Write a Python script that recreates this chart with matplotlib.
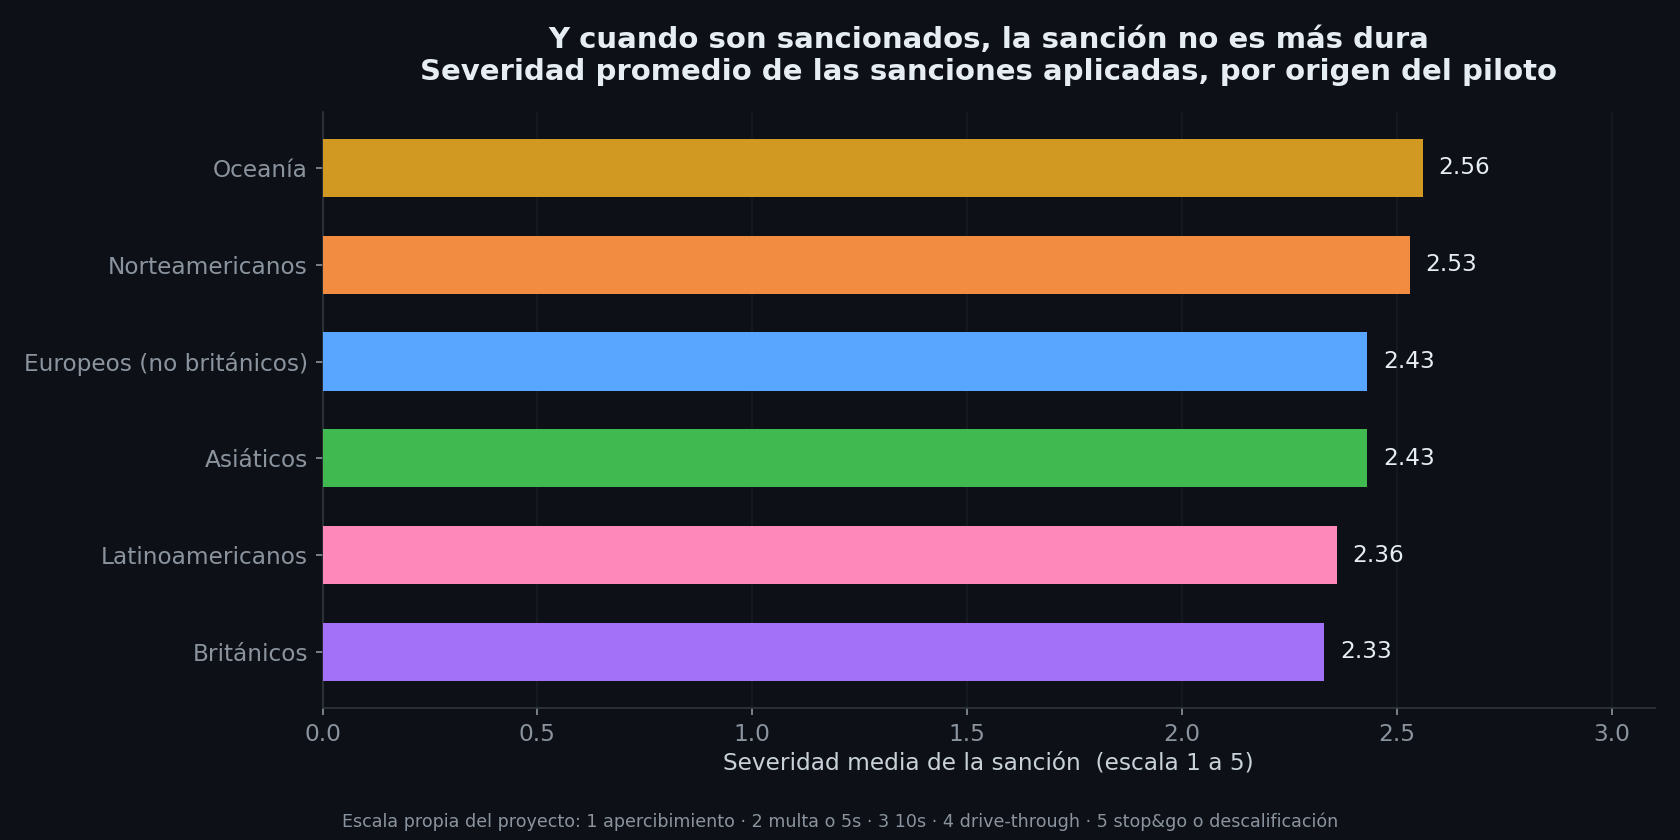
import matplotlib
matplotlib.use("Agg")
import matplotlib.pyplot as plt

# Severidad media por origen del piloto (escala 1 a 5)
origenes = ["Británicos", "Latinoamericanos", "Asiáticos",
            "Europeos (no británicos)", "Norteamericanos", "Oceanía"]
severidad = [2.33, 2.36, 2.43, 2.43, 2.53, 2.56]
colores = ["#a371f7", "#ff88bb", "#3fb950", "#58a6ff", "#f28c40", "#d29922"]

BG = "#0d1017"
TXT = "#e6edf3"
MUTED = "#8b949e"
SPINE = "#30363d"

fig, ax = plt.subplots(figsize=(11.2, 5.6), dpi=150)
fig.patch.set_facecolor(BG)
ax.set_facecolor(BG)

bars = ax.barh(origenes, severidad, height=0.6, color=colores, zorder=3)

for b, v in zip(bars, severidad):
    ax.text(v + 0.037, b.get_y() + b.get_height() / 2, f"{v:.2f}",
            va="center", ha="left", color=TXT, fontsize=11.2)

ax.set_xlim(0, 3.1)
ax.set_xticks([0.0, 0.5, 1.0, 1.5, 2.0, 2.5, 3.0])
ax.grid(axis="x", color="#161b22", linewidth=0.8, zorder=0)

for s in ["top", "right"]:
    ax.spines[s].set_visible(False)
for s in ["left", "bottom"]:
    ax.spines[s].set_color(SPINE)

ax.tick_params(axis="both", colors=MUTED, labelsize=11.2)

ax.set_xlabel("Severidad media de la sanción  (escala 1 a 5)", color="#c9d1d9",
              fontsize=11.2, labelpad=3)
ax.set_title("Y cuando son sancionados, la sanción no es más dura\n"
             "Severidad promedio de las sanciones aplicadas, por origen del piloto",
             color=TXT, fontsize=14, fontweight="bold", pad=15)

fig.text(0.5, 0.011,
         "Escala propia del proyecto: 1 apercibimiento · 2 multa o 5s · 3 10s · "
         "4 drive-through · 5 stop&go o descalificación",
         ha="center", va="bottom", color=MUTED, fontsize=8.4)

fig.subplots_adjust(left=0.192, right=0.985, top=0.867, bottom=0.157)
fig.savefig("out.png", facecolor=BG)
